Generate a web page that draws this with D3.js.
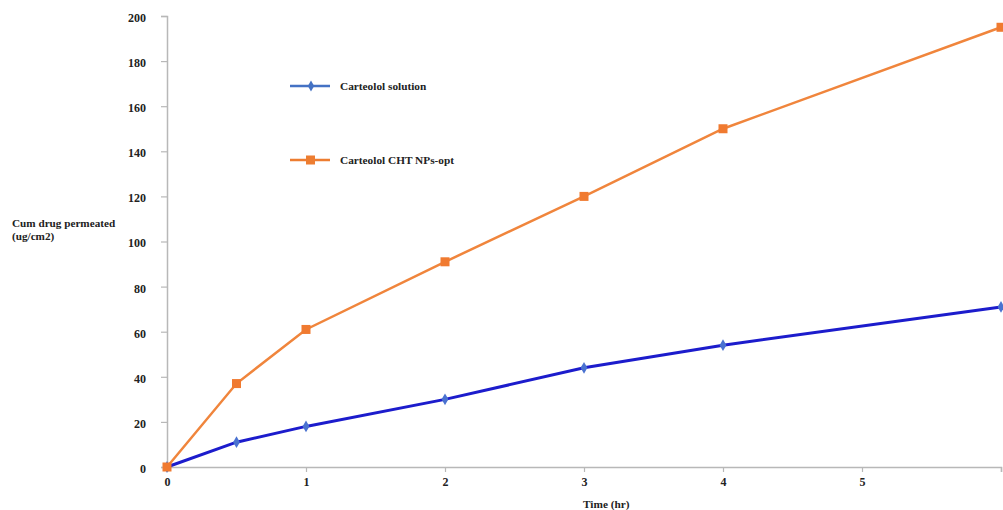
<!DOCTYPE html>
<html><head><meta charset="utf-8">
<script src="https://cdn.jsdelivr.net/npm/d3@7"></script>
<style>
html,body{margin:0;padding:0;background:#fff;}
svg{display:block;}
text{font-family:"Liberation Serif","Times New Roman",serif;font-weight:bold;fill:#222;}
</style></head>
<body>
<script>
const times = [0, 0.5, 1, 2, 3, 4, 6];
const solution = [0, 11, 18, 30, 44, 54, 71];
const nps = [0, 37, 61, 91, 120, 150, 195];
const xTicks = [0, 1, 2, 3, 4, 5];
const yTicks = [0, 20, 40, 60, 80, 100, 120, 140, 160, 180, 200];
const seriesNames = ["Carteolol solution", "Carteolol CHT NPs-opt"];

const W = 1003, H = 510;
const svg = d3.select("body").append("svg").attr("width", W).attr("height", H);

const x = d3.scaleLinear().domain([0, 6]).range([167, 1001]);
const y = d3.scaleLinear().domain([0, 200]).range([467, 16]);

// axes
const axisColor = "#b8b8b8";
const gx = svg.append("g").attr("transform", `translate(0,${y(0)})`)
  .call(d3.axisBottom(x).tickValues([0,1,2,3,4,5,6]).tickFormat(d => d === 6 ? "" : d).tickSize(5).tickPadding(4));
gx.select(".domain").attr("stroke", axisColor).attr("stroke-width", 1.5);
gx.selectAll(".tick line").attr("stroke", axisColor).attr("stroke-width", 1.2);
gx.selectAll(".tick text").style("font-size", "12px").attr("dy", "0.85em");

const gy = svg.append("g").attr("transform", `translate(${x(0)},0)`)
  .call(d3.axisLeft(y).tickValues(yTicks).tickSize(6).tickPadding(15));
gy.select(".domain").attr("stroke", axisColor).attr("stroke-width", 1.5);
gy.selectAll(".tick line").attr("stroke", axisColor).attr("stroke-width", 1.2);
gy.selectAll(".tick text").style("font-size", "12px").attr("dy", "0.45em");

// axis titles
svg.append("text").attr("x", 583).attr("y", 508).style("font-size", "11.3px").text("Time (hr)");
const yt = svg.append("text").attr("x", 12).attr("y", 227).style("font-size", "11.2px");
yt.append("tspan").attr("x", 12).text("Cum drug permeated");
yt.append("tspan").attr("x", 12).attr("dy", 13).text("(ug/cm2)");

const line = d3.line().x(d => x(d[0])).y(d => y(d[1]));

// blue series
const bData = times.map((t, i) => [t, solution[i]]);
svg.append("path").datum(bData).attr("d", line).attr("fill", "none")
  .attr("stroke", "#1c1ccc").attr("stroke-width", 3);
svg.selectAll(".bd").data(bData).enter().append("path")
  .attr("d", d3.symbol().type(d3.symbolDiamond).size(40))
  .attr("transform", d => `translate(${x(d[0])},${y(d[1])})`).attr("fill", "#4a72d0");

// orange series
const oData = times.map((t, i) => [t, nps[i]]);
svg.append("path").datum(oData).attr("d", line).attr("fill", "none")
  .attr("stroke", "#f0853c").attr("stroke-width", 2.5);
svg.selectAll(".osq").data(oData).enter().append("rect")
  .attr("x", d => x(d[0]) - 4.5).attr("y", d => y(d[1]) - 4.5)
  .attr("width", 9).attr("height", 9).attr("fill", "#f07a30");

// legend
const leg = [{name: seriesNames[0], yy: 86, c: "#4472c4"}, {name: seriesNames[1], yy: 160, c: "#ed7d31"}];
leg.forEach((l, i) => {
  svg.append("line").attr("x1", 290).attr("x2", 330).attr("y1", l.yy).attr("y2", l.yy)
    .attr("stroke", l.c).attr("stroke-width", 2.5);
  if (i === 0) {
    svg.append("path").attr("d", d3.symbol().type(d3.symbolDiamond).size(35)).attr("transform", `translate(311,${l.yy})`).attr("fill", l.c);
  } else {
    svg.append("rect").attr("x", 306).attr("y", l.yy - 4.5).attr("width", 9).attr("height", 9).attr("fill", l.c);
  }
  svg.append("text").attr("x", 340).attr("y", l.yy + 4).style("font-size", "11.3px").text(l.name);
});
</script>
</body></html>
